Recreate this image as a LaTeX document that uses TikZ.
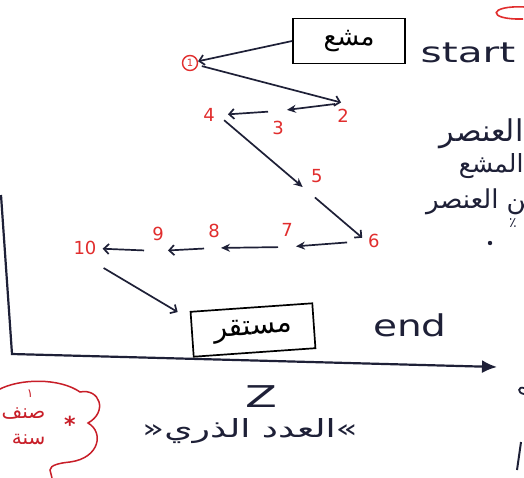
\documentclass[tikz,border=0pt]{standalone}
\usepackage{fontspec}
\setmainfont{DejaVu Sans}
\newfontfamily\arabicfont[Script=Arabic]{DejaVu Sans}
\TeXXeTstate=1
\usetikzlibrary{arrows.meta}
\definecolor{ink}{RGB}{30,32,55}
\definecolor{redink}{RGB}{225,45,45}
\definecolor{cloudred}{RGB}{200,30,40}
\tikzset{
  num/.style={text=redink, font=\fontsize{18}{18}\selectfont, inner sep=1pt},
  arr/.style={draw=ink, line width=1.7pt, -{Straight Barb[length=5pt,width=10pt]}},
  arrf/.style={draw=ink, line width=1.7pt, -{Stealth[length=9pt,width=8pt]}},
  box/.style={draw=black, line width=1.7pt, minimum width=112pt, minimum height=45pt},
  ar/.style={font=\arabicfont\fontsize{26}{30}\selectfont},
  lat/.style={text=ink, inner sep=0pt},
  axis/.style={draw=ink, line width=2.2pt, -{Latex[length=15pt,width=13pt]}}
}
\begin{document}
\begin{tikzpicture}[x=1pt,y=-1pt]
\useasboundingbox (0,0) rectangle (524,477);
\clip (0,0) rectangle (524,477);
\fill[white] (0,0) rectangle (524,477);

% axes
\coordinate (ytop) at (1,195);
\coordinate (o) at (12,354);
\coordinate (xend) at (497,367);
\draw[axis] (ytop) -- (o) -- (xend);

% boxes
\node[box, ar] (src) at (349,41) {\beginR مشع\endR};
\node[box, ar, rotate=4, minimum width=122pt, font=\arabicfont\fontsize{28}{32}\selectfont] (dst) at (253,330) {\beginR مستقر\endR};
\node[lat, font=\fontsize{28}{28}\selectfont] (start) at (468,53) {\scalebox{1.45}[1]{start}};
\node[lat, font=\fontsize{30}{30}\selectfont] (end) at (410,325) {\scalebox{1.3}[1]{end}};

% states
\node[draw=redink, circle, line width=1.4pt, inner sep=0pt, minimum size=15pt,
      text=redink, font=\fontsize{10}{10}\selectfont] (n1) at (190,63) {1};
\coordinate[label={[num,label distance=5pt]below:2}] (p2) at (343,103);
\coordinate[label={[num,label distance=9pt]below:3}] (p3) at (278,111);
\coordinate[label={[num,label distance=2pt]left:4}] (p4) at (218,115);
\coordinate[label={[num,label distance=7pt]above right:5}] (p5) at (305,189);
\coordinate[label={[num,label distance=1pt]right:6}] (p6) at (366,241);
\coordinate[label={[num,label distance=9pt]above:7}] (p7) at (287,247);
\coordinate[label={[num,label distance=9pt]above:8}] (p8) at (214,248);
\coordinate[label={[num,label distance=9pt]above:9}] (p9) at (158,251);
\node[num] (n10) at (85,248) {10};

% connectors
\draw[arr] (src.west) -- (n1);
\draw[arr, shorten <=4pt, shorten >=2pt] (n1) -- (p2);
\draw[arrf, shorten <=8pt, shorten >=9pt] (p2) -- (p3);
\draw[arr, shorten <=10pt, shorten >=10pt] (p3) -- (p4);
\draw[arrf, shorten <=8pt, shorten >=3pt] (p4) -- (p5);
\draw[arr, shorten <=13pt, shorten >=5pt] (p5) -- (p6);
\draw[arrf, shorten <=19pt, shorten >=9pt] (p6) -- (p7);
\draw[arrf, shorten <=9pt, shorten >=7pt] (p7) -- (p8);
\draw[arr, shorten <=10pt, shorten >=10pt] (p8) -- (p9);
\draw[arr, shorten <=14pt, shorten >=5pt] (p9) -- (n10);
\draw[arr] ([xshift=6pt,yshift=-12pt]n10.south east) -- ([xshift=-12pt,yshift=-1pt]dst.north west);

% axis label
\node[lat, font=\fontsize{30}{30}\selectfont] (zl) at (261,397) {\scalebox{1.55}[1]{Z}};
\node[text=ink, inner sep=0pt, font=\arabicfont\fontsize{25}{29}\selectfont] (zname) at (250,431) {\scalebox{1.45}[1]{\beginR »العدد الذري«\endR}};

% right side notes (cut by the frame)
\node[text=ink, anchor=east, font=\arabicfont\fontsize{30}{34}\selectfont] (r1) at (527,134) {\beginR العنصر\endR};
\node[text=ink, anchor=east, font=\arabicfont\fontsize{25}{29}\selectfont] (r2) at (527,166) {\beginR المشع\endR};
\node[text=ink, anchor=east, font=\arabicfont\fontsize{26}{30}\selectfont] (r3) at (544,202) {\beginR من العنصر\endR};
\node[text=ink, font=\fontsize{14}{14}\selectfont] (r4) at (513,223) {٪};
\fill[ink] (490,243) circle (2.2pt);

% red mark top right
\draw[redink, line width=1.6pt] (525,7) .. controls (488,5) and (486,20) .. (523,19);

% cloud bottom left
\draw[cloudred, line width=1.5pt] (-2,390) .. controls (20,378) and (60,378) .. (80,392)
  .. controls (100,388) and (108,412) .. (88,423)
  .. controls (104,432) and (100,458) .. (70,462)
  .. controls (60,463) and (50,465) .. (50,470) -- (52,478);
\node[text=cloudred, font=\fontsize{22}{22}\selectfont\bfseries] (star) at (70,424) {*};
\node[text=cloudred, font=\fontsize{12}{12}\selectfont] (c1) at (30,394) {١};
\node[text=cloudred, anchor=east, font=\arabicfont\fontsize{20}{24}\selectfont] (c2) at (49,414) {\beginR صنف\endR};
\node[text=cloudred, anchor=east, font=\arabicfont\fontsize{20}{24}\selectfont] (c3) at (49,440) {\beginR سنة\endR};

% marks bottom right
\draw[ink, line width=1.8pt] (524,388) .. controls (518,386) and (517,393) .. (524,394);
\draw[ink, line width=2pt] (521,442) -- (517,470);
\end{tikzpicture}
\end{document}
